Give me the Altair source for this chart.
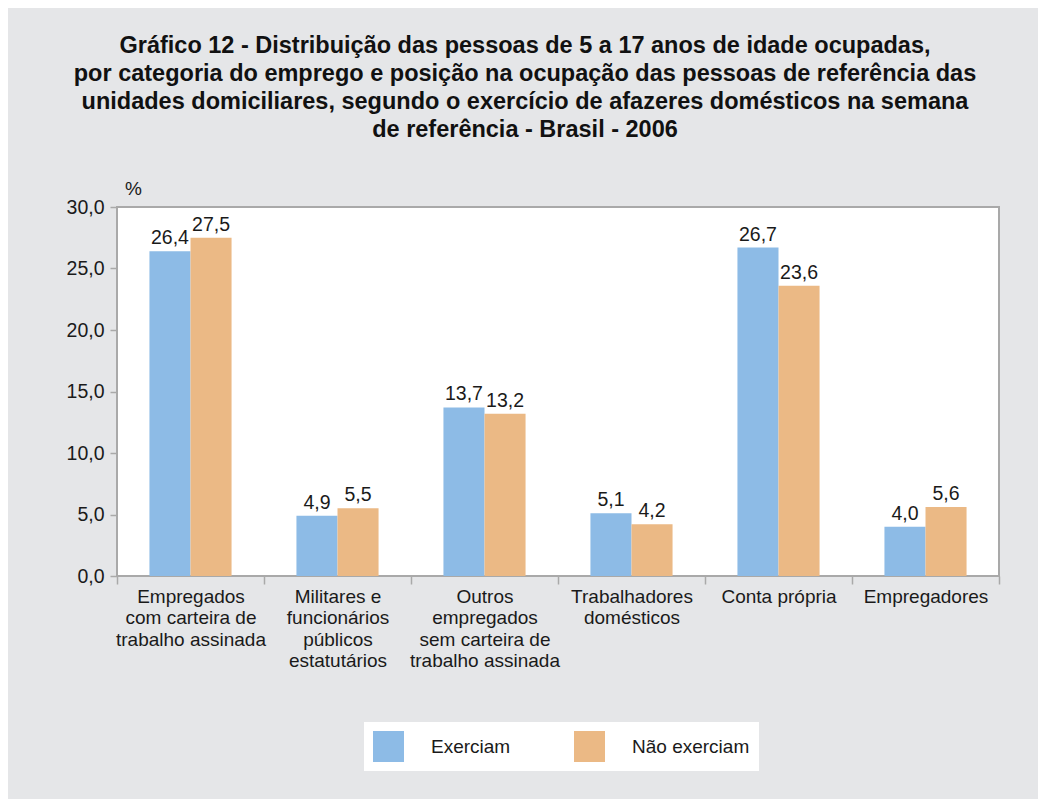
import altair as alt
import pandas as pd

categories = [
    "Empregados\ncom carteira de\ntrabalho assinada",
    "Militares e\nfuncionários\npúblicos\nestatutários",
    "Outros\nempregados\nsem carteira de\ntrabalho assinada",
    "Trabalhadores\ndomésticos",
    "Conta própria",
    "Empregadores",
]
series = ["Exerciam", "Não exerciam"]
exerciam = [26.4, 4.9, 13.7, 5.1, 26.7, 4.0]
nao_exerciam = [27.5, 5.5, 13.2, 4.2, 23.6, 5.6]
colors = ["#8dbbe6", "#ebb985"]

title_lines = [
    "Gráfico 12 - Distribuição das pessoas de 5 a 17 anos de idade ocupadas,",
    "por categoria do emprego e posição na ocupação das pessoas de referência das",
    "unidades domiciliares, segundo o exercício de afazeres domésticos na semana",
    "de referência - Brasil - 2006",
]

rows = []
for c, a, b in zip(categories, exerciam, nao_exerciam):
    rows.append({"cat": c, "serie": series[0], "value": a})
    rows.append({"cat": c, "serie": series[1], "value": b})
df = pd.DataFrame(rows)

FONT = "Liberation Sans"
TXT = "#1a1a1a"
GRAY = "#a9a9a9"

x_scale = alt.Scale(paddingInner=0, paddingOuter=0)
xo_scale = alt.Scale(paddingInner=0, paddingOuter=0.79)

x = alt.X(
    "cat:N",
    sort=categories,
    scale=x_scale,
    axis=alt.Axis(
        title=None,
        labelAngle=0,
        labelExpr="split(datum.label, '\\n')",
        labelBaseline="top",
        labelLineHeight=21.5,
        labelFontSize=19,
        labelFont=FONT,
        labelColor=TXT,
        labelPadding=3,
        labelLimit=0,
        tickBand="extent",
        tickSize=8,
        tickColor=GRAY,
        tickWidth=1.5,
        domain=False,
    ),
)
xoff = alt.XOffset("serie:N", sort=series, scale=xo_scale)
y = alt.Y(
    "value:Q",
    scale=alt.Scale(domain=[0, 30], nice=False),
    axis=alt.Axis(
        title="%",
        titleAngle=0,
        titleX=16,
        titleY=-13,
        titleAlign="center",
        titleBaseline="alphabetic",
        titleFontSize=19,
        titleFontWeight="normal",
        titleFont=FONT,
        titleColor=TXT,
        values=[0, 5, 10, 15, 20, 25, 30],
        labelExpr="replace(format(datum.value, '.1f'), '.', ',')",
        labelFontSize=19.5,
        labelFont=FONT,
        labelColor=TXT,
        labelPadding=6,
        tickSize=7,
        tickColor=GRAY,
        tickWidth=1.5,
        grid=False,
        domain=False,
    ),
)

bars = alt.Chart(df).mark_bar().encode(
    x=x,
    xOffset=xoff,
    y=y,
    color=alt.Color(
        "serie:N",
        sort=series,
        scale=alt.Scale(domain=series, range=colors),
        legend=alt.Legend(
            title=None,
            orient="none",
            legendX=247,
            legendY=515,
            direction="horizontal",
            columns=2,
            symbolType="square",
            symbolSize=961,
            symbolStrokeWidth=0,
            symbolOpacity=1,
            labelFontSize=19,
            labelFont=FONT,
            labelColor=TXT,
            labelOffset=27,
            columnPadding=63,
            padding=9,
            fillColor="white",
        ),
    ),
)

texts = alt.Chart(df).mark_text(
    baseline="alphabetic", dy=-7, fontSize=19.5, font=FONT, color=TXT
).transform_calculate(
    label="replace(format(datum.value, '.1f'), '.', ',')"
).encode(
    x=alt.X("cat:N", sort=categories, scale=x_scale),
    xOffset=alt.XOffset("serie:N", sort=series, scale=xo_scale),
    y="value:Q",
    text="label:N",
)

chart = alt.layer(bars, texts).properties(
    width=882,
    height=369,
    autosize="none",
    padding={"left": 109, "top": 199, "right": 39, "bottom": 223},
    title=alt.TitleParams(
        text=title_lines,
        anchor="middle",
        frame="group",
        dx=-33,
        offset=38,
        fontSize=23.5,
        fontWeight="bold",
        font=FONT,
        lineHeight=28,
        color="#111111",
    ),
).configure(
    background="#e5e6e8",
).configure_view(
    fill="white",
    stroke=GRAY,
    strokeWidth=2,
)

chart.save("out.html", embed_options={"renderer": "svg", "actions": False})
